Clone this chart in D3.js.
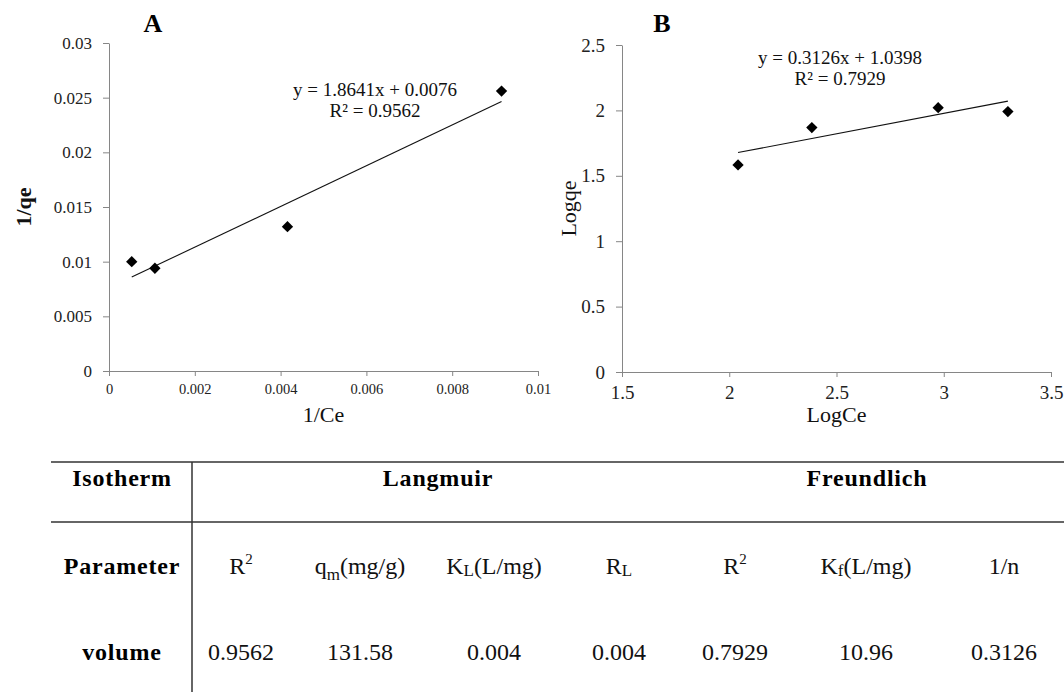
<!DOCTYPE html>
<html>
<head>
<meta charset="utf-8">
<script src="https://cdn.jsdelivr.net/npm/d3@7"></script>
<style>
  body { margin: 0; background: #fff; }
  svg, svg text { font-family: "Liberation Serif", "Times New Roman", "DejaVu Serif", serif; }
</style>
</head>
<body>
<div id="chart"></div>
<script>
// ---- data ----
// panel A: Langmuir (1/Ce vs 1/qe)
var invCe = [0.00053, 0.00107, 0.00416, 0.00915];
var invQe = [0.0100, 0.0094, 0.0132, 0.0256];
var fitA = [1.8641, 0.0076];          // slope, intercept
var r2A = 0.9562;
var xTicksA = [0, 0.002, 0.004, 0.006, 0.008, 0.01];
var xLabelsA = ["0", "0.002", "0.004", "0.006", "0.008", "0.01"];
var yTicksA = [0, 0.005, 0.01, 0.015, 0.02, 0.025, 0.03];
var yLabelsA = ["0", "0.005", "0.01", "0.015", "0.02", "0.025", "0.03"];

// panel B: Freundlich (LogCe vs Logqe)
var logCe = [2.041, 2.385, 2.974, 3.299];
var logQe = [1.583, 1.869, 2.021, 1.991];
var fitB = [0.3126, 1.0398];
var r2B = 0.7929;
var xTicksB = [1.5, 2, 2.5, 3, 3.5];
var xLabelsB = ["1.5", "2", "2.5", "3", "3.5"];
var yTicksB = [0, 0.5, 1, 1.5, 2, 2.5];
var yLabelsB = ["0", "0.5", "1", "1.5", "2", "2.5"];

// table
var rowLabels = ["Isotherm", "Parameter", "volume"];
var groups = ["Langmuir", "Freundlich"];
// [main, sub/sup text, kind, trailing text]
var paramNames = [["R", "2", "sup", ""], ["q", "m", "sub", "(mg/g)"], ["K", "L", "low", "(L/mg)"],
                  ["R", "L", "low", ""], ["R", "2", "sup", ""], ["K", "f", "low", "(L/mg)"], ["1/n", "", "", ""]];
var paramValues = ["0.9562", "131.58", "0.004", "0.004", "0.7929", "10.96", "0.3126"];

var FONT = "'Liberation Serif', 'Times New Roman', serif";
var W = 1064, H = 692;
var svg = d3.select("#chart").append("svg")
    .attr("width", W).attr("height", H)
    .attr("font-family", FONT)
    .style("background-color", "white");

var axisColor = "#868686";

function panel(opt) {
  var x = d3.scaleLinear().domain(opt.xDomain).range([opt.left, opt.right]);
  var y = d3.scaleLinear().domain(opt.yDomain).range([opt.bottom, opt.top]);

  var gx = svg.append("g")
      .attr("transform", "translate(0," + opt.bottom + ")")
      .call(d3.axisBottom(x).tickValues(opt.xTicks)
            .tickFormat(function (d, i) { return opt.xLabels[i]; })
            .tickSize(5).tickSizeOuter(0).tickPadding(opt.xPad));
  var gy = svg.append("g")
      .attr("transform", "translate(" + opt.left + ",0)")
      .call(d3.axisLeft(y).tickValues(opt.yTicks)
            .tickFormat(function (d, i) { return opt.yLabels[i]; })
            .tickSize(6).tickSizeOuter(0).tickPadding(opt.yPad));

  [gx, gy].forEach(function (g) {
    g.attr("font-family", FONT);
    g.selectAll("path, line").attr("stroke", axisColor);
    g.selectAll("text").attr("fill", "#222");
  });
  gx.attr("font-size", opt.xFont);
  gy.attr("font-size", opt.yFont);

  // trendline from the fitted equation over the data range
  var xs = d3.extent(opt.xs);
  svg.append("line")
      .attr("x1", x(xs[0])).attr("y1", y(opt.fit[0] * xs[0] + opt.fit[1]))
      .attr("x2", x(xs[1])).attr("y2", y(opt.fit[0] * xs[1] + opt.fit[1]))
      .attr("stroke", "#111").attr("stroke-width", 1.1);

  // diamond markers
  svg.append("g").selectAll("path")
      .data(opt.xs)
      .enter().append("path")
      .attr("d", d3.symbol(d3.symbolSquare, 64))
      .attr("transform", function (d, i) {
        return "translate(" + x(d) + "," + y(opt.ys[i]) + ") rotate(45)";
      })
      .attr("fill", "#000");

  // equation label
  var eq = svg.append("text")
      .attr("text-anchor", "middle")
      .attr("font-size", opt.eqFont)
      .attr("fill", "#111");
  eq.append("tspan").attr("x", opt.eqX).attr("y", opt.eqY)
      .text("y = " + opt.fit[0].toFixed(4) + "x + " + opt.fit[1].toFixed(4));
  eq.append("tspan").attr("x", opt.eqX).attr("y", opt.eqY + opt.eqGap)
      .text("R\u00B2 = " + opt.r2.toFixed(4));

  // panel letter
  svg.append("text")
      .attr("x", opt.titleX).attr("y", 32)
      .attr("text-anchor", "middle")
      .attr("font-size", 26).attr("font-weight", "bold")
      .text(opt.title);

  // axis titles
  svg.append("text")
      .attr("x", (opt.left + opt.right) / 2).attr("y", 422)
      .attr("text-anchor", "middle")
      .attr("font-size", 22).attr("fill", "#111")
      .text(opt.xTitle);
  svg.append("text")
      .attr("transform", "translate(" + opt.yTitleX + "," + ((opt.top + opt.bottom) / 2) + ") rotate(-90)")
      .attr("text-anchor", "middle")
      .attr("font-size", 22).attr("font-weight", opt.yTitleWeight).attr("fill", "#111")
      .text(opt.yTitle);
}

panel({
  xDomain: [0, 0.01], yDomain: [0, 0.03],
  left: 109, right: 538, top: 43, bottom: 371,
  xTicks: xTicksA, xLabels: xLabelsA, yTicks: yTicksA, yLabels: yLabelsA,
  xPad: 8, yPad: 11, xFont: 14.5, yFont: 17,
  xs: invCe, ys: invQe, fit: fitA, r2: r2A,
  eqX: 375, eqY: 96, eqGap: 21, eqFont: 19,
  title: "A", titleX: 153,
  xTitle: "1/Ce", yTitle: "1/qe", yTitleX: 31, yTitleWeight: "bold"
});

panel({
  xDomain: [1.5, 3.5], yDomain: [0, 2.5],
  left: 622, right: 1051, top: 45, bottom: 372,
  xTicks: xTicksB, xLabels: xLabelsB, yTicks: yTicksB, yLabels: yLabelsB,
  xPad: 9, yPad: 11, xFont: 19, yFont: 19,
  xs: logCe, ys: logQe, fit: fitB, r2: r2B,
  eqX: 840, eqY: 64, eqGap: 21, eqFont: 19,
  title: "B", titleX: 662,
  xTitle: "LogCe", yTitle: "Logqe", yTitleX: 576, yTitleWeight: "normal"
});

// ---- table ----
var colX = [241, 360, 494, 619, 735, 866, 1004];
var rowY = [486, 574, 660];
var lineColor = "#333";

svg.append("line").attr("x1", 51).attr("x2", W).attr("y1", 462).attr("y2", 462)
    .attr("stroke", lineColor).attr("stroke-width", 1.5);
svg.append("line").attr("x1", 51).attr("x2", W).attr("y1", 522).attr("y2", 522)
    .attr("stroke", lineColor).attr("stroke-width", 1.5);
svg.append("line").attr("x1", 192).attr("x2", 192).attr("y1", 462).attr("y2", H)
    .attr("stroke", lineColor).attr("stroke-width", 1.5);

svg.selectAll(".rowlab")
    .data(rowLabels)
    .enter().append("text")
    .attr("x", 122).attr("y", function (d, i) { return rowY[i]; })
    .attr("text-anchor", "middle")
    .attr("font-size", 24).attr("font-weight", "bold")
    .attr("letter-spacing", 0.8)
    .text(function (d) { return d; });

svg.selectAll(".grp")
    .data(groups)
    .enter().append("text")
    .attr("x", function (d, i) { return i === 0 ? 438 : 867; })
    .attr("y", rowY[0])
    .attr("text-anchor", "middle")
    .attr("font-size", 24).attr("font-weight", "bold")
    .attr("letter-spacing", 0.8)
    .text(function (d) { return d; });

paramNames.forEach(function (p, i) {
  var t = svg.append("text").attr("x", colX[i]).attr("y", rowY[1])
      .attr("text-anchor", "middle").attr("font-size", 24).attr("fill", "#111");
  t.append("tspan").text(p[0]);
  if (p[1]) {
    var shift = p[2] === "sup" ? -10 : (p[2] === "sub" ? 6 : 2);
    t.append("tspan")
        .attr("dy", shift)
        .attr("font-size", p[2] === "sup" ? 15 : 17)
        .text(p[1]);
    if (p[3]) t.append("tspan").attr("dy", -shift).text(p[3]);
  }
});

svg.selectAll(".val")
    .data(paramValues)
    .enter().append("text")
    .attr("x", function (d, i) { return colX[i]; }).attr("y", rowY[2])
    .attr("text-anchor", "middle")
    .attr("font-size", 24).attr("fill", "#111")
    .text(function (d) { return d; });
</script>
</body>
</html>
